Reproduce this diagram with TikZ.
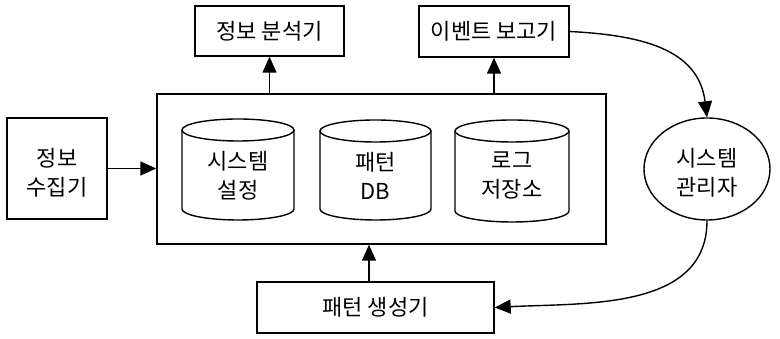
\documentclass[tikz,border=0pt]{standalone}
\usepackage{fontspec}
\setmainfont{Noto Sans CJK KR}
\usetikzlibrary{arrows.meta,shapes.geometric}
\begin{document}
\begin{tikzpicture}[x=1pt,y=1pt,
  box/.style={draw,line width=1.4pt,inner sep=0pt,font=\fontsize{22}{29}\selectfont,align=center},
  lbl/.style={inner sep=0pt,font=\fontsize{22}{29}\selectfont,align=center},
  arr/.style={line width=1.4pt,-{Triangle[length=16pt,width=14pt]}},
  cyl/.style={line width=1.4pt}]
\useasboundingbox (0,0) rectangle (780,339);
% boxes
\node[box,minimum width=149pt,minimum height=50pt] (ana) at (269.5,308) {정보 분석기};
\node[box,minimum width=150pt,minimum height=51pt] (rep) at (494,307.5) {이벤트 보고기};
\node[box,minimum width=449pt,minimum height=150pt] (main) at (381.5,170) {};
\node[box,minimum width=100pt,minimum height=101pt] (col) at (57,170.5) {};
\node[lbl] (colt) at (57,166) {정보\\수집기};
\node[box,minimum width=237pt,minimum height=51pt] (gen) at (375.5,31.5) {패턴 생성기};
\node[draw,ellipse,line width=1.4pt,minimum width=126pt,minimum height=102pt,inner sep=0pt] (adm) at (707,170) {};
\node[lbl] (admt) at (707,166) {시스템\\관리자};
% cylinders
\foreach \cx/\w/\top/\bot/\nm in {238/112/220/119/c1, 375.5/111/219/119/c2, 512/114/219/117/c3}{
  \pgfmathsetmacro{\rx}{\w/2}
  \draw[cyl] (\cx,\top-11) ellipse [x radius=\rx, y radius=11];
  \draw[cyl] (\cx-\rx,\top-11) -- (\cx-\rx,\bot+11)
     arc[start angle=180,end angle=360,x radius=\rx,y radius=11]
     -- (\cx+\rx,\top-11);
}
\node[lbl] (c1t) at (238,163) {시스템\\설정};
\node[lbl] (c2t) at (375.5,163) {패턴\\DB};
\node[lbl] (c3t) at (512,163) {로그\\저장소};
% connectors
\draw[arr] (col.east) -- (main.west |- col.east);
\draw[arr] (main.north -| ana.south) -- (ana.south);
\draw[arr] (main.north -| rep.south) -- (rep.south);
\draw[arr] (gen.north -| 369,0) -- (main.south -| 369,0);
\draw[arr] (rep.east) to[out=-3,in=97,looseness=1.1] (adm.north);
\draw[arr] (adm.south) to[out=-90,in=3] (gen.east);
\end{tikzpicture}
\end{document}
